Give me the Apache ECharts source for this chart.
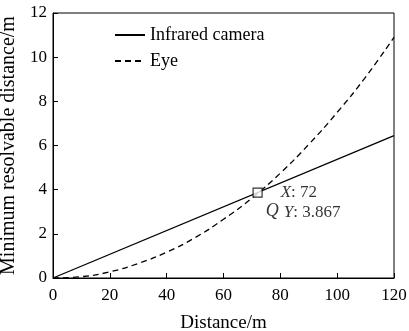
<!DOCTYPE html>
<html>
<head>
<meta charset="utf-8">
<script src="https://cdn.jsdelivr.net/npm/echarts@6/dist/echarts.min.js"></script>
<style>html,body{margin:0;padding:0;background:#fff;}#c{width:409px;height:331px;}</style>
</head>
<body>
<div id="c"></div>
<script>
// Data
const distances = [0, 10, 20, 30, 40, 50, 60, 70, 80, 90, 100, 110, 120];
const eyeValues = [0, 0.06, 0.28, 0.66, 1.17, 1.83, 2.66, 3.62, 4.75, 6.05, 7.5, 9.1, 10.9];
const cameraX = [0, 120];
const cameraValues = [0, 6.445];
const pointQ = [72, 3.867];
const xTicks = [0, 20, 40, 60, 80, 100, 120];
const yTicks = [0, 2, 4, 6, 8, 10, 12];

const FONT = 'Liberation Serif';
const chart = echarts.init(document.getElementById('c'), null, {renderer: 'canvas'});
chart.setOption({
  backgroundColor: '#fff',
  animation: false,
  textStyle: {fontFamily: FONT, color: '#000'},
  grid: {left: 53, right: 15, top: 13, bottom: 53, show: true, borderColor: '#000', borderWidth: 1,
         containLabel: false, outerBoundsMode: 'none'},
  legend: {
    orient: 'vertical', left: 109, top: 21, itemWidth: 30, itemHeight: 14, itemGap: 8,
    itemStyle: {opacity: 0},
    textStyle: {fontFamily: FONT, fontSize: 18, color: '#000'},
    data: ['Infrared camera', 'Eye']
  },
  xAxis: {
    type: 'value', min: xTicks[0], max: xTicks[xTicks.length - 1], interval: 20,
    name: 'Distance/m', nameLocation: 'middle', nameGap: 36,
    nameTextStyle: {fontFamily: FONT, fontSize: 19, color: '#000'},
    axisLine: {lineStyle: {color: '#000', width: 1}},
    axisTick: {inside: true, length: 5, lineStyle: {color: '#000'}},
    axisLabel: {fontFamily: FONT, fontSize: 17, color: '#000', margin: 9},
    splitLine: {show: false}
  },
  yAxis: {
    type: 'value', min: yTicks[0], max: yTicks[yTicks.length - 1], interval: 2,
    name: 'Minimum resolvable distance/m', nameLocation: 'middle', nameGap: 28,
    nameTextStyle: {fontFamily: FONT, fontSize: 20, color: '#000'},
    axisLine: {lineStyle: {color: '#000', width: 1}},
    axisTick: {inside: true, length: 5, lineStyle: {color: '#000'}},
    axisLabel: {fontFamily: FONT, fontSize: 17, color: '#000', margin: 6},
    splitLine: {show: false}
  },
  series: [
    {
      name: 'Infrared camera', type: 'line', symbol: 'none',
      data: cameraX.map((x, i) => [x, cameraValues[i]]),
      lineStyle: {color: '#000', width: 1.3, type: 'solid'},
      itemStyle: {color: '#000'}
    },
    {
      name: 'Eye', type: 'line', symbol: 'none', smooth: true,
      data: distances.map((x, i) => [x, eyeValues[i]]),
      lineStyle: {color: '#000', width: 1.3, type: [6, 4]},
      itemStyle: {color: '#000'}
    },
    {
      name: 'Q', type: 'scatter', symbol: 'rect', symbolSize: 9, z: 5,
      data: [pointQ],
      itemStyle: {color: '#fff', borderColor: '#000', borderWidth: 1.2},
      label: {
        show: true, position: 'right', distance: 3, offset: [0, 10],
        formatter: '{p|}{i|X}{n|: ' + pointQ[0] + '}\n{q|Q}{i|Y}{n|: ' + pointQ[1] + '}',
        rich: {
          p: {width: 15, lineHeight: 20},
          q: {width: 18, fontFamily: FONT, fontStyle: 'italic', fontSize: 18, color: '#000', lineHeight: 20, verticalAlign: 'top'},
          i: {fontFamily: FONT, fontStyle: 'italic', fontSize: 17, color: '#000', lineHeight: 20},
          n: {fontFamily: FONT, fontSize: 17, color: '#000', lineHeight: 20}
        }
      }
    }
  ]
});
</script>
</body>
</html>
